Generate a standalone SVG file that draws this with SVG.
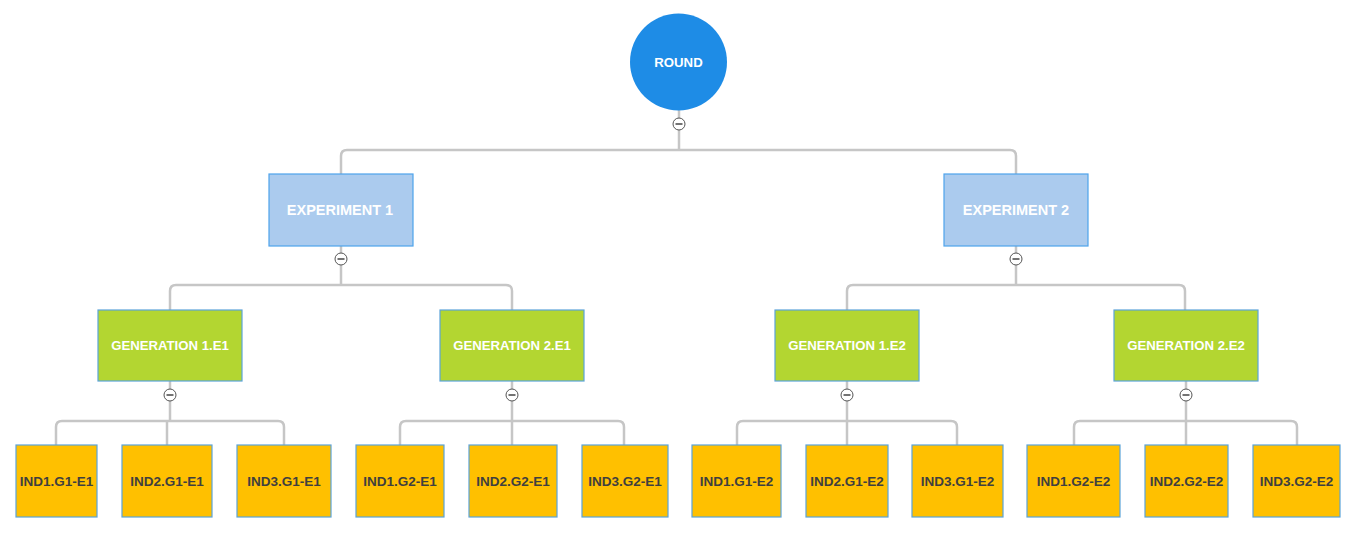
<svg xmlns="http://www.w3.org/2000/svg" width="1350" height="552" viewBox="0 0 1350 552">
<style>
.bg{fill:#ffffff}
.conn{fill:none;stroke:#c6c6c6;stroke-width:2.5}
.exp{fill:#abcbee;stroke:#4ea3ec;stroke-width:1.2}
.gen{fill:#b3d631;stroke:#5ba3d9;stroke-width:1.2}
.leaf{fill:#ffc000;stroke:#5ba3d9;stroke-width:1.2}
.root{fill:#1e8ce6}
.t{font-family:"Liberation Sans",Arial,sans-serif;font-weight:bold;text-anchor:middle;dominant-baseline:central}
.tw{fill:#ffffff}
.td{fill:#3f3f3f}
.col circle{fill:#ffffff;stroke:#555555;stroke-width:1}
.col line{stroke:#444444;stroke-width:1.5}
</style>
<rect class="bg" x="0" y="0" width="1350" height="552"/>
<g id="connectors">
<path class="conn" d="M679,110 V150 M341,174 V156 Q341,150 347,150 H1010 Q1016,150 1016,156 V174"/>
<path class="conn" d="M341,246 V285 M170,310 V291 Q170,285 176,285 H506 Q512,285 512,291 V310"/>
<path class="conn" d="M1016,246 V285 M847,310 V291 Q847,285 853,285 H1179 Q1185,285 1185,291 V310"/>
<path class="conn" d="M170,381 V421 M167,421 V445 M56,445 V427 Q56,421 62,421 H278 Q284,421 284,427 V445"/>
<path class="conn" d="M512,381 V445 M400,445 V427 Q400,421 406,421 H618 Q624,421 624,427 V445"/>
<path class="conn" d="M847,381 V445 M737,445 V427 Q737,421 743,421 H951 Q957,421 957,427 V445"/>
<path class="conn" d="M1186,381 V445 M1074,445 V427 Q1074,421 1080,421 H1291 Q1297,421 1297,427 V445"/>
</g>
<g id="root">
<circle class="root" cx="678.5" cy="62" r="48.5"/>
<text class="t tw" x="678.5" y="62" font-size="13.2">ROUND</text>
<g class="col"><circle cx="679" cy="124" r="6"/><line x1="675.5" y1="124" x2="682.5" y2="124"/></g>
</g>
<g id="experiment1">
<rect class="exp" x="269" y="174" width="144" height="72"/>
<text class="t tw" x="340" y="210" font-size="14.5">EXPERIMENT 1</text>
<g class="col"><circle cx="341" cy="259" r="6"/><line x1="337.5" y1="259" x2="344.5" y2="259"/></g>
</g>
<g id="experiment2">
<rect class="exp" x="944" y="174" width="144" height="72"/>
<text class="t tw" x="1016" y="210" font-size="14.5">EXPERIMENT 2</text>
<g class="col"><circle cx="1016" cy="259" r="6"/><line x1="1012.5" y1="259" x2="1019.5" y2="259"/></g>
</g>
<g id="gen1e1">
<rect class="gen" x="98" y="310" width="144" height="71"/>
<text class="t tw" x="170" y="345.5" font-size="13.2">GENERATION 1.E1</text>
<g class="col"><circle cx="170" cy="395" r="6"/><line x1="166.5" y1="395" x2="173.5" y2="395"/></g>
</g>
<g id="gen2e1">
<rect class="gen" x="440" y="310" width="144" height="71"/>
<text class="t tw" x="512" y="345.5" font-size="13.2">GENERATION 2.E1</text>
<g class="col"><circle cx="512" cy="395" r="6"/><line x1="508.5" y1="395" x2="515.5" y2="395"/></g>
</g>
<g id="gen1e2">
<rect class="gen" x="775" y="310" width="144" height="71"/>
<text class="t tw" x="847" y="345.5" font-size="13.2">GENERATION 1.E2</text>
<g class="col"><circle cx="847" cy="395" r="6"/><line x1="843.5" y1="395" x2="850.5" y2="395"/></g>
</g>
<g id="gen2e2">
<rect class="gen" x="1114" y="310" width="144" height="71"/>
<text class="t tw" x="1186" y="345.5" font-size="13.2">GENERATION 2.E2</text>
<g class="col"><circle cx="1186" cy="395" r="6"/><line x1="1182.5" y1="395" x2="1189.5" y2="395"/></g>
</g>
<g id="ind1g1e1"><rect class="leaf" x="16" y="445" width="81" height="72"/><text class="t td" x="56.5" y="481" font-size="13.5">IND1.G1-E1</text></g>
<g id="ind2g1e1"><rect class="leaf" x="122" y="445" width="90" height="72"/><text class="t td" x="167" y="481" font-size="13.5">IND2.G1-E1</text></g>
<g id="ind3g1e1"><rect class="leaf" x="237" y="445" width="94" height="72"/><text class="t td" x="284" y="481" font-size="13.5">IND3.G1-E1</text></g>
<g id="ind1g2e1"><rect class="leaf" x="356" y="445" width="88" height="72"/><text class="t td" x="400" y="481" font-size="13.5">IND1.G2-E1</text></g>
<g id="ind2g2e1"><rect class="leaf" x="469" y="445" width="88" height="72"/><text class="t td" x="513" y="481" font-size="13.5">IND2.G2-E1</text></g>
<g id="ind3g2e1"><rect class="leaf" x="582" y="445" width="86" height="72"/><text class="t td" x="625" y="481" font-size="13.5">IND3.G2-E1</text></g>
<g id="ind1g1e2"><rect class="leaf" x="692" y="445" width="89" height="72"/><text class="t td" x="736.5" y="481" font-size="13.5">IND1.G1-E2</text></g>
<g id="ind2g1e2"><rect class="leaf" x="806" y="445" width="82" height="72"/><text class="t td" x="847" y="481" font-size="13.5">IND2.G1-E2</text></g>
<g id="ind3g1e2"><rect class="leaf" x="912" y="445" width="91" height="72"/><text class="t td" x="957.5" y="481" font-size="13.5">IND3.G1-E2</text></g>
<g id="ind1g2e2"><rect class="leaf" x="1027" y="445" width="93" height="72"/><text class="t td" x="1073.5" y="481" font-size="13.5">IND1.G2-E2</text></g>
<g id="ind2g2e2"><rect class="leaf" x="1145" y="445" width="83" height="72"/><text class="t td" x="1186.5" y="481" font-size="13.5">IND2.G2-E2</text></g>
<g id="ind3g2e2"><rect class="leaf" x="1253" y="445" width="87" height="72"/><text class="t td" x="1296.5" y="481" font-size="13.5">IND3.G2-E2</text></g>
</svg>
